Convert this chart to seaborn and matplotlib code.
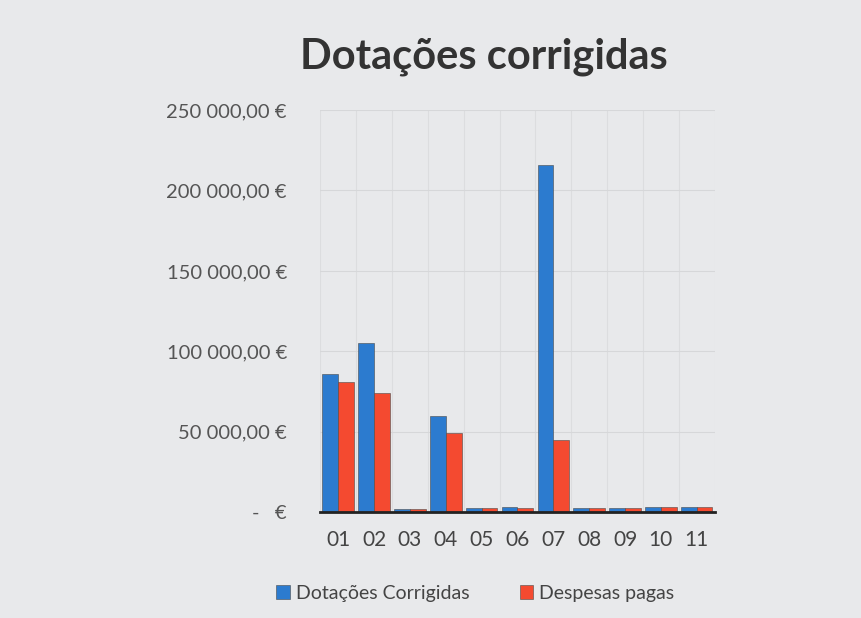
import numpy as np
import pandas as pd
import matplotlib
matplotlib.use("Agg")
import matplotlib.pyplot as plt
import seaborn as sns
from matplotlib.ticker import FuncFormatter

categories = ["01", "02", "03", "04", "05", "06", "07", "08", "09", "10", "11"]
dotacoes = [86000, 105500, 2000, 60000, 2500, 3000, 216000, 2500, 2500, 3000, 3500]
despesas = [81000, 74000, 2000, 49000, 2500, 2500, 45000, 2500, 2500, 3000, 3500]
series_names = ["Dotações Corrigidas", "Despesas pagas"]
colors = ["#2c7bcf", "#f44a30"]

df = pd.DataFrame({
    "cat": categories * 2,
    "valor": dotacoes + despesas,
    "serie": [series_names[0]] * len(categories) + [series_names[1]] * len(categories),
})

sns.set_theme(style="white")
plt.rcParams["font.family"] = ["Lato", "DejaVu Sans"]

bg = "#e8e9eb"
fig = plt.figure(figsize=(8.61, 6.18), dpi=100, facecolor=bg)
ax = fig.add_axes([0.372, 0.171, 0.458, 0.651], facecolor=bg)

sns.barplot(data=df, x="cat", y="valor", hue="serie", palette=colors,
            saturation=1, width=0.88, gap=0, ax=ax, edgecolor="#4a4a4a",
            linewidth=0.4, legend=True)


def fmt(v, pos):
    if v == 0:
        return "-   €"
    s = f"{int(v):,}".replace(",", " ")
    return s + ",00 €"


ax.set_ylim(0, 250000)
ax.set_yticks(np.arange(0, 250001, 50000))
ax.yaxis.set_major_formatter(FuncFormatter(fmt))
ax.set_xlim(-0.5, len(categories) - 0.5)
ax.set_xlabel("")
ax.set_ylabel("")

ax.set_xticks(np.arange(-0.5, len(categories), 1), minor=True)
ax.grid(axis="y", color="#d6d7d9", linewidth=0.8)
ax.grid(axis="x", which="minor", color="#dcdddf", linewidth=0.8)
ax.set_axisbelow(True)
for s in ["top", "right", "left"]:
    ax.spines[s].set_visible(False)
ax.spines["bottom"].set_color("#222222")
ax.spines["bottom"].set_linewidth(2)

ax.tick_params(axis="y", labelsize=14.5, labelcolor="#555555", length=0, pad=24)
ax.tick_params(axis="x", labelsize=15, labelcolor="#444444", length=0, pad=13)

fig.suptitle("Dotações corrigidas", x=0.562, y=0.94, fontsize=30,
             fontweight="bold", color="#333333")

handles, labels = ax.get_legend_handles_labels()
ax.legend_.remove()
fig.legend(handles, labels, loc="center", bbox_to_anchor=(0.552, 0.04), ncol=2,
           frameon=False, fontsize=14, handlelength=0.7, handleheight=0.7,
           handletextpad=0.3, columnspacing=2.6, labelcolor="#444444")

fig.savefig("out.png", dpi=100, facecolor=bg)
